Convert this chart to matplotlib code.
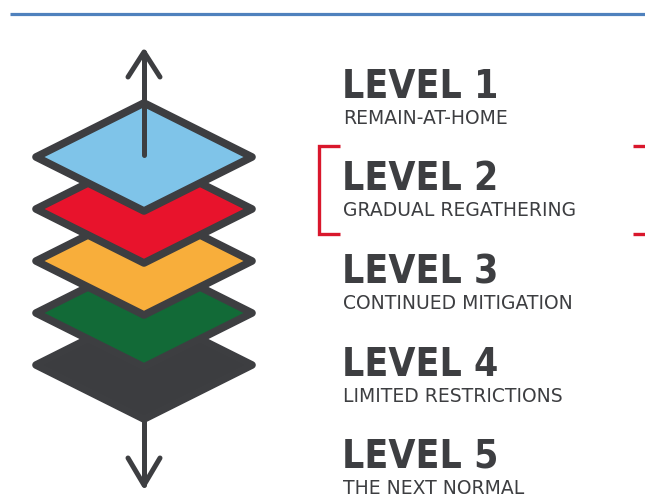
import matplotlib
matplotlib.use("Agg")
import matplotlib.pyplot as plt
from matplotlib.patches import Polygon
from matplotlib import font_manager

# Level data (top of the stack first)
levels = ["LEVEL 1", "LEVEL 2", "LEVEL 3", "LEVEL 4", "LEVEL 5"]
subtitles = ["REMAIN-AT-HOME", "GRADUAL REGATHERING", "CONTINUED MITIGATION",
             "LIMITED RESTRICTIONS", "THE NEXT NORMAL"]
layer_colors = ["#7fc4e9", "#e8132c", "#f8ae3b", "#126a37", "#3c3d40"]
highlight = 1  # index of the bracketed level

dark = "#3d3e41"
red = "#d9172c"

# look for a condensed / narrow bold face for the headings
head_family, head_stretch, head_size = "DejaVu Sans", "normal", 24
for f in font_manager.fontManager.ttflist:
    st = f.stretch if isinstance(f.stretch, str) else str(f.stretch)
    if ("Narrow" in f.name or "Condensed" in f.name or "condensed" in st) and f.weight in (700, "bold"):
        head_family, head_stretch, head_size = f.name, st, 28
        break

fig = plt.figure(figsize=(6.45, 4.97), dpi=100)
ax = fig.add_axes([0, 0, 1, 1])
ax.set_xlim(0, 645)
ax.set_ylim(497, 0)
ax.axis("off")

# blue rule across the top
ax.plot([10, 645], [14, 14], color="#4f81bd", lw=2.3, solid_capstyle="butt")

# stacked diamonds, bottom layer drawn first
cx, cy0, step = 144, 157, 52
hw, hh = 108, 54
for i in range(len(levels) - 1, -1, -1):
    cy = cy0 + i * step
    pts = [(cx, cy - hh), (cx + hw, cy), (cx, cy + hh), (cx - hw, cy)]
    ax.add_patch(Polygon(pts, closed=True, facecolor=layer_colors[i],
                         edgecolor=dark, lw=5.5, joinstyle="round", zorder=2 + (4 - i)))

# up arrow through the top layer
top = cy0 - hh
ax.plot([cx, cx], [cy0 - 2, top - 51], color=dark, lw=3.6,
        solid_capstyle="round", zorder=10)
ax.plot([cx - 16, cx, cx + 16], [top - 26, top - 51, top - 26], color=dark, lw=3.6,
        solid_capstyle="round", solid_joinstyle="round", zorder=10)

# down arrow below the bottom layer
bot = cy0 + (len(levels) - 1) * step + hh
ax.plot([cx, cx], [bot, bot + 66], color=dark, lw=3.6,
        solid_capstyle="round", zorder=10)
ax.plot([cx - 16, cx, cx + 16], [bot + 39, bot + 66, bot + 39], color=dark, lw=3.6,
        solid_capstyle="round", solid_joinstyle="round", zorder=10)

# level headings and descriptions
tx, base0, tstep = 342, 98, 92.5
for i, (lv, sub) in enumerate(zip(levels, subtitles)):
    b = base0 + i * tstep
    ax.text(tx, b, lv, family=head_family, stretch=head_stretch, fontweight="bold",
            fontsize=head_size, color=dark, va="baseline", ha="left")
    ax.text(tx + 1, b + 26, sub, family="DejaVu Sans", fontsize=13.5,
            color=dark, va="baseline", ha="left")

# red bracket around the highlighted level
b = base0 + highlight * tstep
ytop, ybot = b - 45, b + 43
ax.plot([340, 319, 319, 340], [ytop, ytop, ybot, ybot], color=red, lw=2.4,
        solid_joinstyle="miter", solid_capstyle="butt")
ax.plot([633, 645], [ytop, ytop], color=red, lw=2.4, solid_capstyle="butt")
ax.plot([633, 645], [ybot, ybot], color=red, lw=2.4, solid_capstyle="butt")

plt.savefig("out.png", dpi=100)
